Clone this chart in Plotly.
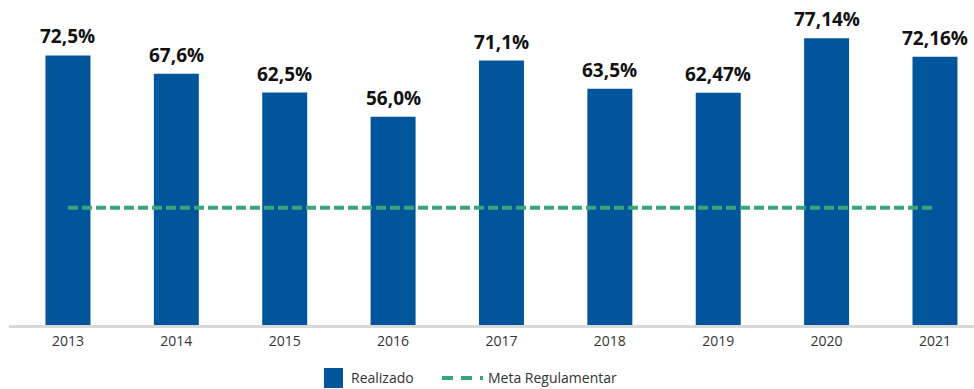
import plotly.graph_objects as go

# Índice realizado por ano e meta regulamentar (%)
anos = ["2013", "2014", "2015", "2016", "2017", "2018", "2019", "2020", "2021"]
realizado = [72.5, 67.6, 62.5, 56.0, 71.1, 63.5, 62.47, 77.14, 72.16]
meta = [31.5] * len(anos)

rotulos = ["<b>" + str(v).replace(".", ",") + "%</b>" for v in realizado]

AZUL = "#01569B"
VERDE = "#37A67B"
FONTE = "Open Sans"
CINZA_TEXTO = "#333333"

fig = go.Figure()

fig.add_trace(go.Bar(
    x=anos,
    y=realizado,
    name="Realizado",
    marker=dict(color=AZUL, line=dict(width=0)),
    width=0.415,
    hoverinfo="skip",
    showlegend=False,
))

fig.add_trace(go.Scatter(
    x=anos,
    y=meta,
    name="Meta Regulamentar",
    mode="lines",
    line=dict(color=VERDE, width=4, dash="10px,4px"),
    hoverinfo="skip",
    showlegend=False,
))

# Rótulos de valor acima das barras
for i, (v, r) in enumerate(zip(realizado, rotulos)):
    fig.add_annotation(
        x=i, y=v, xref="x", yref="y", text=r, showarrow=False,
        yanchor="bottom", yshift=4,
        font=dict(family=FONTE, size=19, color="#111111"),
    )

# Legenda desenhada abaixo do eixo
fig.add_shape(type="rect", xref="paper", yref="paper",
              x0=0.3264, x1=0.3461, y0=-0.1938, y1=-0.1323,
              fillcolor=AZUL, line=dict(width=0))
fig.add_annotation(xref="paper", yref="paper", x=0.3520, y=-0.160,
                   xanchor="left", yanchor="middle", showarrow=False,
                   text="Realizado",
                   font=dict(family=FONTE, size=14, color=CINZA_TEXTO))
fig.add_shape(type="line", xref="paper", yref="paper",
              x0=0.4487, x1=0.4912, y0=-0.163, y1=-0.163,
              line=dict(color=VERDE, width=4, dash="11px,8px"))
fig.add_annotation(xref="paper", yref="paper", x=0.4940, y=-0.160,
                   xanchor="left", yanchor="middle", showarrow=False,
                   text="Meta Regulamentar",
                   font=dict(family=FONTE, size=14, color=CINZA_TEXTO))

fig.update_layout(
    width=974,
    height=389,
    margin=dict(l=9, r=0, t=0, b=64),
    paper_bgcolor="white",
    plot_bgcolor="white",
    font=dict(family=FONTE, color=CINZA_TEXTO),
    showlegend=False,
    xaxis=dict(
        type="category",
        range=[-0.544, 8.36],
        showline=True,
        linecolor="#D9D9D9",
        linewidth=2.5,
        ticks="",
        ticklabelstandoff=1,
        showgrid=False,
        tickfont=dict(family=FONTE, size=14, color=CINZA_TEXTO),
        fixedrange=True,
    ),
    yaxis=dict(
        range=[0, 87.4],
        visible=False,
        showgrid=False,
        zeroline=False,
        fixedrange=True,
    ),
)

fig.write_html("out.html")
